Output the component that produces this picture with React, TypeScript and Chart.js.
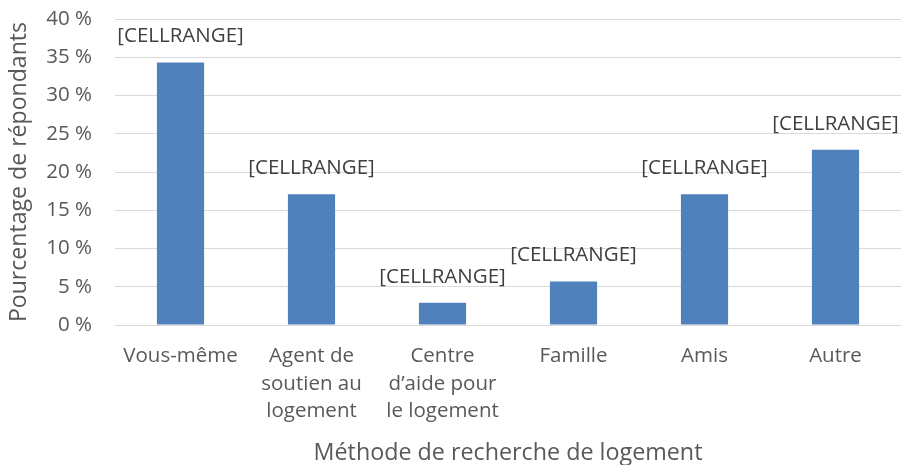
import React, { useEffect, useRef } from "react";
import { Chart, registerables } from "chart.js";

Chart.register(...registerables);

const categories: (string | string[])[] = [
  "Vous-même",
  ["Agent de", "soutien au", "logement"],
  ["Centre", "d’aide pour", "le logement"],
  "Famille",
  "Amis",
  "Autre",
];
const values = [34.3, 17.1, 2.9, 5.7, 17.1, 22.9];
const dataLabels = ["[CELLRANGE]", "[CELLRANGE]", "[CELLRANGE]", "[CELLRANGE]", "[CELLRANGE]", "[CELLRANGE]"];
const yTitle = "Pourcentage de répondants";
const xTitle = "Méthode de recherche de logement";

const FONT = "'Open Sans', sans-serif";

const labelPlugin = {
  id: "cellLabels",
  afterDatasetsDraw(chart: any) {
    const ctx = chart.ctx;
    const meta = chart.getDatasetMeta(0);
    ctx.save();
    ctx.font = `20.5px ${FONT}`;
    ctx.fillStyle = "#404040";
    ctx.textAlign = "center";
    ctx.textBaseline = "middle";
    meta.data.forEach((bar: any, i: number) => {
      ctx.fillText(dataLabels[i], bar.x, bar.y - 26);
    });
    ctx.restore();
  },
};

export default function App() {
  const ref = useRef<HTMLCanvasElement>(null);
  useEffect(() => {
    if (!ref.current) return;
    const chart = new Chart(ref.current, {
      type: "bar",
      data: {
        labels: categories,
        datasets: [
          {
            data: values,
            backgroundColor: "#4f81bd",
            barPercentage: 0.36,
            categoryPercentage: 1,
          },
        ],
      },
      options: {
        responsive: true,
        maintainAspectRatio: false,
        animation: false,
        layout: { padding: { top: 19, right: 0, left: 0, bottom: 0 } },
        plugins: {
          legend: { display: false },
          tooltip: { enabled: false },
        },
        scales: {
          x: {
            grid: { display: false },
            border: { display: false },
            ticks: {
              color: "#595959",
              font: { family: FONT, size: 20.5, lineHeight: 1.33 },
              padding: 10,
              maxRotation: 0,
              autoSkip: false,
            },
            title: {
              display: true,
              text: xTitle,
              color: "#595959",
              font: { family: FONT, size: 23.3 },
              padding: { top: 0, bottom: -2 },
            },
            afterFit: (s: any) => {
              s.height = 140;
            },
          },
          y: {
            min: 0,
            max: 40,
            ticks: {
              stepSize: 5,
              color: "#595959",
              font: { family: FONT, size: 20.5 },
              padding: 4,
              callback: (v: any) => `${v} %`,
            },
            grid: {
              color: "#d9d9d9",
              lineWidth: 1,
              drawTicks: true,
              tickLength: 19,
              tickColor: "rgba(0,0,0,0)",
            },
            border: { display: false },
            title: {
              display: true,
              text: yTitle,
              color: "#595959",
              font: { family: FONT, size: 23.1 },
              padding: { top: 6, bottom: 0 },
            },
            afterFit: (s: any) => {
              s.width = 115;
            },
          },
        },
      },
      plugins: [labelPlugin],
    });
    return () => chart.destroy();
  }, []);
  return (
    <div style={{ position: "absolute", left: 0, top: 0, width: 901, height: 465, background: "#fff" }}>
      <canvas ref={ref} />
    </div>
  );
}
